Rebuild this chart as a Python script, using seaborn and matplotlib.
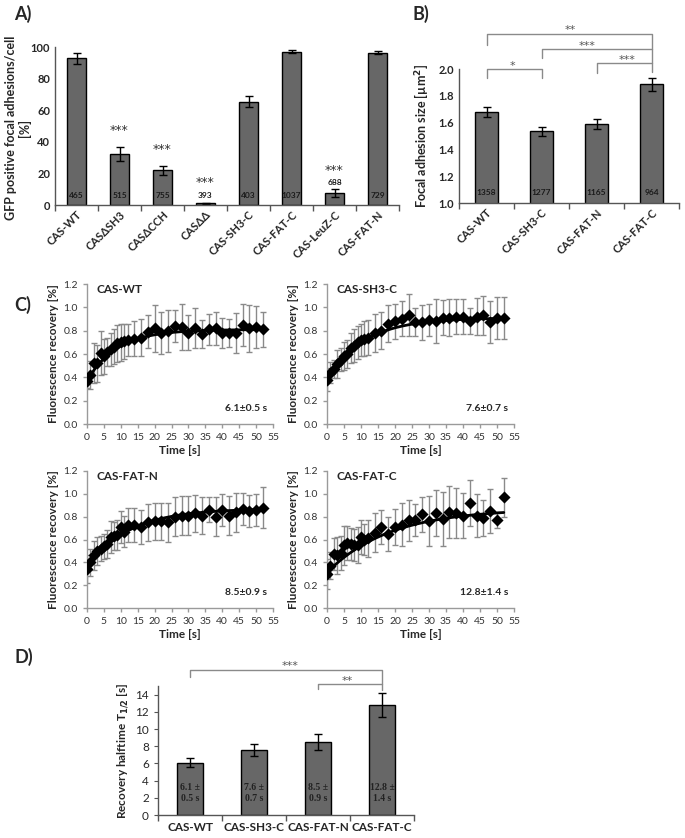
import numpy as np
import pandas as pd
import matplotlib
matplotlib.use("Agg")
import matplotlib.pyplot as plt
import seaborn as sns

# ---------------- data ----------------
a_cats = ["CAS-WT", "CASΔSH3", "CASΔCCH", "CASΔΔ", "CAS-SH3-C", "CAS-FAT-C", "CAS-LeuZ-C", "CAS-FAT-N"]
a_vals = [93, 32.5, 22, 1, 65.5, 97, 7.5, 96.5]
a_errs = [3.5, 4.5, 2.8, 0.5, 3.5, 0.8, 2.5, 0.8]
a_n = ["465", "515", "755", "393", "403", "1037", "688", "729"]
a_sig = ["", "***", "***", "***", "", "", "***", ""]

b_cats = ["CAS-WT", "CAS-SH3-C", "CAS-FAT-N", "CAS-FAT-C"]
b_vals = [1.68, 1.535, 1.59, 1.885]
b_errs = [0.04, 0.035, 0.035, 0.05]
b_n = ["1358", "1277", "1165", "964"]

c_time = [0, 1, 2, 3, 4, 5, 6, 7, 8, 9, 10, 11, 12, 14, 16, 18, 20, 22, 24, 26,
          28, 30, 32, 34, 36, 38, 40, 42, 44, 46, 48, 50, 52]
wt_vals = [0.37, 0.42, 0.52, 0.52, 0.61, 0.58, 0.62, 0.64, 0.66, 0.69, 0.70, 0.71, 0.72, 0.73, 0.74, 0.79, 0.82,
           0.78, 0.80, 0.84, 0.83, 0.78, 0.82, 0.77, 0.81, 0.82, 0.78, 0.78, 0.78, 0.85, 0.82, 0.83, 0.81]
wt_errs = [0.06, 0.12, 0.17, 0.16, 0.19, 0.15, 0.12, 0.14, 0.15, 0.16, 0.16, 0.15, 0.14, 0.15, 0.16, 0.14, 0.20,
           0.18, 0.18, 0.14, 0.20, 0.15, 0.17, 0.12, 0.13, 0.14, 0.13, 0.12, 0.17, 0.18, 0.20, 0.18, 0.15]
sh3_vals = [0.38, 0.44, 0.47, 0.51, 0.55, 0.58, 0.60, 0.65, 0.67, 0.70, 0.72, 0.73, 0.74, 0.78, 0.80, 0.86, 0.88,
            0.90, 0.93, 0.87, 0.87, 0.89, 0.88, 0.91, 0.91, 0.92, 0.92, 0.88, 0.92, 0.93, 0.87, 0.91, 0.91]
sh3_errs = [0.10, 0.09, 0.08, 0.12, 0.10, 0.12, 0.12, 0.13, 0.14, 0.14, 0.14, 0.15, 0.15, 0.16, 0.16, 0.16, 0.15,
            0.15, 0.18, 0.12, 0.15, 0.14, 0.19, 0.15, 0.16, 0.15, 0.15, 0.11, 0.16, 0.17, 0.18, 0.18, 0.18]
fatn_vals = [0.34, 0.40, 0.46, 0.50, 0.52, 0.54, 0.56, 0.62, 0.63, 0.64, 0.71, 0.67, 0.73, 0.73, 0.71, 0.75, 0.76,
             0.76, 0.75, 0.80, 0.81, 0.81, 0.83, 0.81, 0.86, 0.80, 0.86, 0.81, 0.84, 0.87, 0.85, 0.86, 0.88]
fatn_errs = [0.12, 0.12, 0.13, 0.12, 0.11, 0.11, 0.12, 0.14, 0.12, 0.13, 0.14, 0.14, 0.15, 0.15, 0.15, 0.16, 0.16,
             0.16, 0.17, 0.17, 0.17, 0.17, 0.16, 0.16, 0.11, 0.17, 0.14, 0.17, 0.17, 0.14, 0.14, 0.14, 0.18]
fatc_vals = [0.30, 0.37, 0.47, 0.46, 0.48, 0.55, 0.57, 0.56, 0.55, 0.55, 0.62, 0.60, 0.61, 0.66, 0.71, 0.65, 0.71,
             0.73, 0.77, 0.77, 0.82, 0.76, 0.83, 0.78, 0.84, 0.83, 0.81, 0.92, 0.81, 0.79, 0.85, 0.77, 0.97]
fatc_errs = [0.13, 0.12, 0.14, 0.16, 0.15, 0.17, 0.15, 0.14, 0.14, 0.16, 0.15, 0.14, 0.16, 0.17, 0.15, 0.15, 0.16,
             0.19, 0.18, 0.14, 0.15, 0.22, 0.20, 0.24, 0.23, 0.22, 0.20, 0.20, 0.19, 0.16, 0.19, 0.07, 0.17]
c_names = ["CAS-WT", "CAS-SH3-C", "CAS-FAT-N", "CAS-FAT-C"]
c_halftime = [6.1, 7.6, 8.5, 12.8]
c_half_err = [0.5, 0.7, 0.9, 1.4]
c_start = [0.37, 0.38, 0.35, 0.31]
c_plateau = [0.81, 0.91, 0.87, 0.87]

d_cats = ["CAS-WT", "CAS-SH3-C", "CAS-FAT-N", "CAS-FAT-C"]
d_vals = [6.1, 7.6, 8.5, 12.8]
d_errs = [0.5, 0.7, 0.9, 1.4]

# ---------------- style ----------------
sns.set_style("ticks")
plt.rcParams["font.family"] = ["Lato", "DejaVu Sans"]
plt.rcParams["axes.linewidth"] = 1.0

BAR = "#676767"
SPINE = "#555555"
GRAY = "#8a8a8a"
STAR_FONT = ["DejaVu Sans"]

fig = plt.figure(figsize=(6.85, 8.38), dpi=100)
W, H = 685.0, 838.0


def add_ax(x0, y_top, x1, y_bot):
    return fig.add_axes([x0 / W, 1 - y_bot / H, (x1 - x0) / W, (y_bot - y_top) / H])


def cat_axis(ax, labels, n, rot=0, size=8.5, pad=4):
    ax.set_xlim(-0.5, n - 0.5)
    ax.set_xticks(range(n))
    if rot:
        ax.set_xticklabels(labels, rotation=rot, ha="right", rotation_mode="anchor",
                           fontweight="bold", fontsize=size)
    else:
        ax.set_xticklabels(labels, fontweight="bold", fontsize=size)
    ax.tick_params(axis="x", which="major", length=0, pad=pad)
    ax.set_xticks(np.arange(-0.5, n, 1.0), minor=True)
    ax.tick_params(axis="x", which="minor", length=4, width=1, color=SPINE, direction="out")
    for s in ["top", "right"]:
        ax.spines[s].set_visible(False)
    for s in ["left", "bottom"]:
        ax.spines[s].set_color(SPINE)


def bracket(ax, x1, x2, y, d1, d2, text, tx, ty, color=GRAY, size=8):
    ax.plot([x1, x1, x2, x2], [d1, y, y, d2], color=color, lw=1, clip_on=False)
    ax.text(tx, ty, text, ha="center", va="center", fontsize=size, color="#555555",
            family=STAR_FONT, clip_on=False)


# ---------------- Panel A ----------------
axA = add_ax(55, 47, 399, 205)
dfA = pd.DataFrame({"cat": a_cats, "val": a_vals})
sns.barplot(data=dfA, x="cat", y="val", order=a_cats, color=BAR, saturation=1, width=0.42,
            edgecolor="black", linewidth=1, errorbar=None, ax=axA)
axA.errorbar(range(len(a_cats)), a_vals, yerr=a_errs, fmt="none", ecolor="black",
             elinewidth=1, capsize=3, capthick=1)
axA.set_ylim(0, 100)
axA.set_yticks([0, 20, 40, 60, 80, 100])
axA.tick_params(axis="y", length=0, labelsize=8)
for lab in axA.get_yticklabels():
    lab.set_fontweight("bold")
cat_axis(axA, a_cats, len(a_cats), rot=45, size=8, pad=3)
axA.set_xlabel("")
axA.set_ylabel("")
fig.text(18 / W, 1 - 128 / H, "GFP positive focal adhesions/cell\n[%]", rotation=90,
         ha="center", va="center", fontsize=9, fontweight="bold", linespacing=1.1,
         multialignment="center")
n_y = [6, 6, 6, 6, 6, 6, 14, 6]
for i, n in enumerate(a_n):
    axA.text(i, n_y[i], n, ha="center", va="center", fontsize=6, fontweight="bold", color="#1a1a1a")
sig_y = {1: 47, 2: 35, 3: 14.5, 6: 22}
for i, yv in sig_y.items():
    axA.text(i, yv, a_sig[i], ha="center", va="center", fontsize=9, color="#333333",
             family=STAR_FONT)

# ---------------- Panel B ----------------
axB = add_ax(459, 69, 679, 203)
dfB = pd.DataFrame({"cat": b_cats, "val": b_vals})
sns.barplot(data=dfB, x="cat", y="val", order=b_cats, color=BAR, saturation=1, width=0.42,
            edgecolor="black", linewidth=1, errorbar=None, ax=axB)
axB.errorbar(range(len(b_cats)), b_vals, yerr=b_errs, fmt="none", ecolor="black",
             elinewidth=1, capsize=3, capthick=1)
axB.set_ylim(1.0, 2.0)
axB.set_yticks([1.0, 1.2, 1.4, 1.6, 1.8, 2.0])
axB.set_yticklabels(["1.0", "1.2", "1.4", "1.6", "1.8", "2.0"], fontweight="bold", fontsize=8)
axB.tick_params(axis="y", length=0)
cat_axis(axB, b_cats, len(b_cats), rot=45, size=8, pad=3)
axB.set_xlabel("")
axB.set_ylabel("Focal adhesion size [µm$^\\mathbf{2}$]", fontsize=9, fontweight="bold", labelpad=6)
for i, n in enumerate(b_n):
    axB.text(i, 1.08, n, ha="center", va="center", fontsize=6, fontweight="bold", color="#1a1a1a")
bracket(axB, 0, 3, 2.26, 2.18, 1.98, "**", 1.52, 2.29)
bracket(axB, 1, 3, 2.15, 2.08, 2.15, "***", 1.83, 2.175)
bracket(axB, 2, 3, 2.045, 1.97, 2.045, "***", 2.55, 2.07)
bracket(axB, 0, 1, 2.0, 1.93, 1.93, "*", 0.48, 2.025)

# ---------------- Panel C ----------------
c_vals = [wt_vals, sh3_vals, fatn_vals, fatc_vals]
c_errs = [wt_errs, sh3_errs, fatn_errs, fatc_errs]
c_boxes = [(87, 284, 273, 424), (327, 284, 514, 424), (87, 471, 273, 608), (327, 471, 514, 608)]
t_fit = np.linspace(0, 52, 200)
for k in range(4):
    x0, yt, x1, yb = c_boxes[k]
    ax = add_ax(x0, yt, x1, yb)
    ax.errorbar(c_time, c_vals[k], yerr=c_errs[k], fmt="none", ecolor=GRAY, elinewidth=1,
                capsize=2.5, capthick=1, zorder=1)
    y_fit = c_plateau[k] - (c_plateau[k] - c_start[k]) * 2.0 ** (-t_fit / c_halftime[k])
    sns.lineplot(x=t_fit, y=y_fit, color="black", lw=2.0, ax=ax, zorder=4)
    sns.scatterplot(x=c_time, y=c_vals[k], marker="D", color="black", s=38, edgecolor="black",
                    linewidth=0, ax=ax, zorder=5)
    ax.set_xlim(0, 55)
    ax.set_ylim(0, 1.2)
    ax.set_xticks(range(0, 56, 5))
    ax.set_yticks([0, 0.2, 0.4, 0.6, 0.8, 1.0, 1.2])
    ax.set_yticklabels(["0.0", "0.2", "0.4", "0.6", "0.8", "1.0", "1.2"])
    ax.tick_params(axis="both", labelsize=7.5, colors="#9a9a9a", labelcolor="#333333",
                   length=3, width=1, direction="out")
    for s in ["top", "right"]:
        ax.spines[s].set_visible(False)
    for s in ["left", "bottom"]:
        ax.spines[s].set_color("#9a9a9a")
    ax.set_xlabel("Time [s]", fontsize=8.5, fontweight="bold", labelpad=2)
    ax.set_ylabel("Fluorescence recovery [%]", fontsize=8.5, fontweight="bold", labelpad=3)
    ax.text(0.05, 0.96, c_names[k], transform=ax.transAxes, ha="left", va="center",
            fontsize=8.5, fontweight="bold")
    ax.text(0.97, 0.11, f"{c_halftime[k]}±{c_half_err[k]} s", transform=ax.transAxes,
            ha="right", va="center", fontsize=7.5, fontweight="bold")

# ---------------- Panel D ----------------
axD = add_ax(158, 686, 414, 815)
dfD = pd.DataFrame({"cat": d_cats, "val": d_vals})
sns.barplot(data=dfD, x="cat", y="val", order=d_cats, color=BAR, saturation=1, width=0.41,
            edgecolor="black", linewidth=1, errorbar=None, ax=axD)
axD.errorbar(range(len(d_cats)), d_vals, yerr=d_errs, fmt="none", ecolor="black",
             elinewidth=1, capsize=3, capthick=1)
axD.set_ylim(0, 15)
axD.set_yticks(range(0, 15, 2))
axD.tick_params(axis="y", labelsize=8.5, length=3, direction="out", color=SPINE)
cat_axis(axD, d_cats, len(d_cats), size=8.5, pad=5)
axD.set_xlabel("")
axD.set_ylabel("Recovery halftime T$_{\\mathbf{1/2}}$ [s]", fontsize=8.5, fontweight="bold", labelpad=4)
for i, (v, e) in enumerate(zip(d_vals, d_errs)):
    axD.text(i, 2.6, f"{v} ±\n{e} s", ha="center", va="center", fontsize=7,
             fontweight="bold", family="Liberation Serif", color="#222222", linespacing=1.3)
bracket(axD, 0, 3, 16.9, 16.1, 14.5, "***", 1.56, 17.3)
bracket(axD, 2, 3, 15.2, 14.6, 15.2, "**", 2.45, 15.6)

# ---------------- panel letters ----------------
for txt, x, y in [("A)", 14, 14), ("B)", 413, 14), ("C)", 14, 305), ("D)", 14, 657)]:
    fig.text(x / W, 1 - y / H, txt, fontsize=13, fontweight="bold", ha="left", va="center")

fig.savefig("out.png", dpi=100)
